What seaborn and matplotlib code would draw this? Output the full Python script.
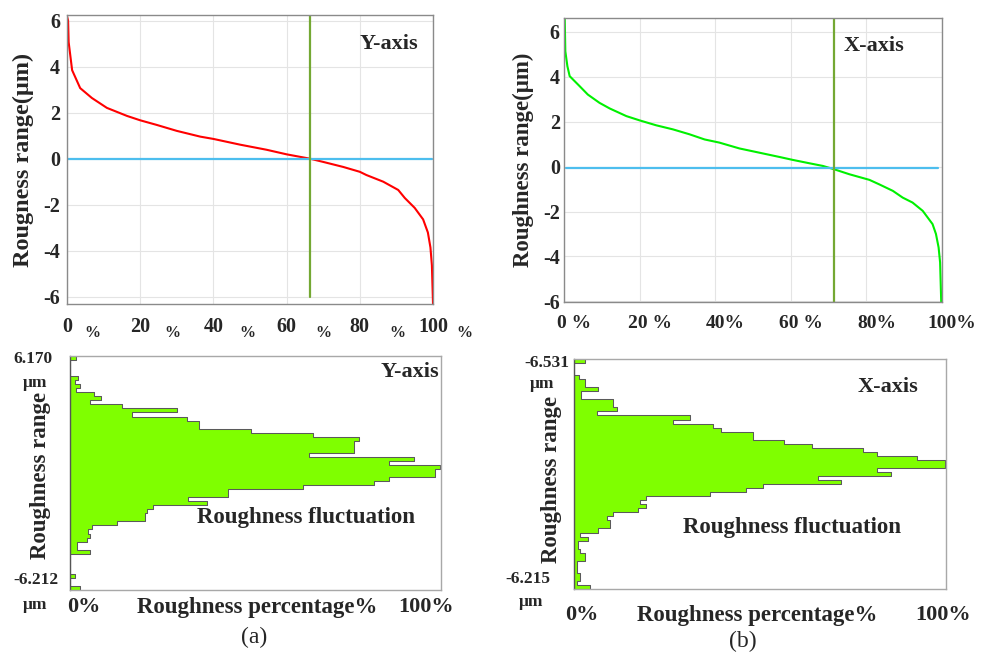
import numpy as np
import pandas as pd
import matplotlib
matplotlib.use("Agg")
import matplotlib.pyplot as plt
import seaborn as sns
from matplotlib.transforms import ScaledTranslation, blended_transform_factory

# ---------------- data ----------------
# (a) Y-axis bearing curve (percentage, roughness in um)
y_pct = [0, 0.3, 0.45, 1.4, 3.6, 6.8, 10.9, 16.4, 20, 24.5, 30, 36.4, 40, 47.3, 54.5,
         60, 66.4, 70, 75.5, 80, 81.8, 86.4, 90.5, 92.3, 95, 97.3, 98.6, 99.3, 99.7, 100]
y_val = [6.2, 6.0, 5.07, 3.85, 3.07, 2.64, 2.21, 1.86, 1.67, 1.47, 1.21, 0.96, 0.86, 0.61, 0.39,
         0.19, 0.0, -0.14, -0.36, -0.57, -0.71, -1.0, -1.36, -1.71, -2.14, -2.64, -3.21, -3.86, -4.64, -6.3]
y_cross_pct = 66.5
y_mean_level = 0.0

# (b) X-axis bearing curve
x_pct = [0, 0.2, 0.35, 0.9, 1.5, 4.1, 6.3, 9.4, 12.1, 16.5, 20, 24.4, 28.8, 33.2, 37.2, 41.1,
         46.4, 51.7, 57, 60.5, 64.9, 68.5, 71.5, 75.5, 80.8, 83.4, 87, 89.6, 92.2, 94.9, 97.5,
         98.4, 99.1, 99.5, 99.8]
x_val = [6.7, 6.55, 5.14, 4.47, 4.03, 3.59, 3.21, 2.84, 2.59, 2.25, 2.06, 1.84, 1.66, 1.44, 1.21, 1.07,
         0.81, 0.62, 0.43, 0.30, 0.15, 0.03, -0.12, -0.34, -0.59, -0.79, -1.08, -1.38, -1.6, -1.97, -2.56,
         -3.0, -3.6, -4.27, -6.05]
x_cross_pct = 71.4
x_mean_level = -0.05

# histograms: roughness percentage per bin, listed from top bin to bottom bin
hist_y_pct = [1.6, 0, 0, 0, 0, 2.2, 1.4, 2.8, 1.6, 6.4, 8.4, 5.4, 14, 28.8, 16.7, 31.5, 34.8, 34.8,
              49, 65.6, 78, 76.8, 76.8, 76.8, 64.7, 93, 86.3, 100, 98.8, 98.8, 86.3, 82.2, 62.9,
              42.7, 42.7, 32, 37, 22.5, 20.8, 20.2, 20.2, 12.7, 5.9, 5, 5.4, 4.6, 1.9, 1.9, 5.4,
              0, 0, 0, 0, 0, 1.3, 0, 0, 2.7]
hist_y_top, hist_y_bottom = 6.170, -6.212
hist_y_labels = ["6.170", "-6.212"]

hist_x_pct = [3, 0, 0, 0, 1.4, 3, 3, 6.5, 2, 2, 10.6, 10.6, 11.5, 6.1, 31.2, 26.7, 37.5, 39.7,
              48.2, 48.2, 56.7, 64.3, 77.8, 81.8, 92.6, 100, 100, 81.8, 85.4, 65.7, 72, 50.9,
              46.4, 36.6, 19.5, 17.7, 19.5, 17.3, 10.6, 8.8, 9.7, 9.7, 6.5, 1.6, 3.9, 1.2, 1.2,
              1.6, 3, 3, 0.7, 0.7, 0.7, 1.6, 1.6, 0.7, 4.3]
hist_x_top, hist_x_bottom = 6.531, -6.215
hist_x_labels = ["-6.531", "-6.215"]

pct_ticks = [0, 20, 40, 60, 80, 100]
val_ticks = [-6, -4, -2, 0, 2, 4, 6]
left_xtick_labels = ["0", "20", "40", "60", "80", "100"]
right_xtick_labels = ["0 %", "20 %", "40%", "60 %", "80%", "100%"]

# ---------------- style ----------------
sns.set_theme(style="white")
plt.rcParams["font.family"] = ["Liberation Serif", "DejaVu Serif"]
plt.rcParams["axes.unicode_minus"] = False

W, H = 987, 656
fig = plt.figure(figsize=(W / 100, H / 100), dpi=100)


def rect(l, t, r, b):
    return [l / W, 1 - b / H, (r - l) / W, (b - t) / H]


def ftext(x, y, s, **kw):
    kw.setdefault("ha", "center")
    kw.setdefault("va", "center")
    fig.text(x / W, 1 - y / H, s, **kw)


RED = "#ff0000"
GREEN = "#00f000"
VGREEN = "#74a833"
BLUE = "#4dbeee"
FILL = "#7fff00"
SPINE = "#8a8a8a"
GRID = "#e4e4e4"


def style_top(ax, ylim):
    ax.set_xlim(0, 100)
    ax.set_ylim(*ylim)
    ax.set_xticks(pct_ticks)
    ax.set_yticks(val_ticks)
    ax.grid(True, color=GRID, linewidth=0.8)
    for s in ax.spines.values():
        s.set_color(SPINE)
        s.set_linewidth(1.0)
    ax.tick_params(direction="in", length=4, color=SPINE, labelsize=14.5)
    for lab in ax.get_xticklabels() + ax.get_yticklabels():
        lab.set_fontweight("bold")
    ax.set_xlabel("")


# ---- top-left: Y-axis ----
ax1 = fig.add_axes(rect(67, 15, 433, 304))
sns.lineplot(x=y_pct, y=y_val, color=RED, linewidth=1.5, ax=ax1)
ax1.axhline(y_mean_level, xmin=0, xmax=0.997, color=BLUE, linewidth=1.6)
ax1.axvline(y_cross_pct, ymin=0.025, ymax=1, color=VGREEN, linewidth=1.6)
style_top(ax1, (-6.32, 6.25))
ax1.set_xticklabels(left_xtick_labels, fontweight="bold")
ax1.tick_params(axis="x", pad=9)
ax1.tick_params(axis="y", pad=5)
ax1.set_ylabel("Rougness range(μm)", fontsize=17.5, fontweight="bold")
ax1.yaxis.set_label_coords(-0.09, 0.5)
btr = blended_transform_factory(ax1.transData, ax1.transAxes)
for xp in [6.8, 28.7, 49.2, 70, 90.2, 108.7]:
    ax1.text(xp, -0.1, "%", transform=btr, ha="center", va="center", fontsize=11.5,
             fontweight="bold", clip_on=False)
ax1.text(0.88, 0.9, "Y-axis", transform=ax1.transAxes, ha="center", va="center",
         fontsize=16, fontweight="bold")

# ---- top-right: X-axis ----
ax2 = fig.add_axes(rect(564, 18, 942, 302))
sns.lineplot(x=x_pct, y=x_val, color=GREEN, linewidth=1.5, ax=ax2)
ax2.axhline(x_mean_level, xmin=0.005, xmax=0.99, color=BLUE, linewidth=1.6)
ax2.axvline(x_cross_pct, color=VGREEN, linewidth=1.6)
style_top(ax2, (-6.03, 6.62))
ax2.set_xticklabels(right_xtick_labels, fontweight="bold", fontsize=14)
ax2.tick_params(axis="x", pad=9)
ax2.tick_params(axis="y", pad=3)
for lab in ax2.get_xticklabels():
    lab.set_transform(lab.get_transform() + ScaledTranslation(0.1, 0, fig.dpi_scale_trans))
ax2.set_ylabel("Roughness range(μm)", fontsize=16.5, fontweight="bold")
ax2.yaxis.set_label_coords(-0.08, 0.5)
ax2.text(0.82, 0.9, "X-axis", transform=ax2.transAxes, ha="center", va="center",
         fontsize=16, fontweight="bold")


# ---- bottom histograms ----
def draw_hist(ax, pct, top, bottom):
    n = len(pct)
    h = (top - bottom) / n
    df = pd.DataFrame({
        "roughness": np.linspace(top - h / 2, bottom + h / 2, n),
        "share": np.asarray(pct, dtype=float),
    })
    edges = list(np.linspace(bottom, top, n + 1))
    sns.histplot(data=df, y="roughness", weights="share", bins=edges, element="step",
                 fill=True, color=FILL, alpha=1, edgecolor="#5a5a5a", linewidth=0.75, ax=ax)
    ax.set_ylim(bottom, top)
    ax.set_xlim(0, 100.3)
    ax.set_xticks([])
    ax.set_yticks([])
    ax.set_xlabel("")
    ax.set_ylabel("")
    for name, s in ax.spines.items():
        s.set_color("#a8a8a8")
        s.set_linewidth(1.0)
    ax.spines["left"].set_color("#555555")


ax3 = fig.add_axes(rect(70, 356, 441, 590))
draw_hist(ax3, hist_y_pct, hist_y_top, hist_y_bottom)
ax4 = fig.add_axes(rect(574, 359, 946, 589))
draw_hist(ax4, hist_x_pct, hist_x_top, hist_x_bottom)

B = dict(fontweight="bold")
# left histogram texts
ftext(33, 359, hist_y_labels[0], fontsize=12.5, **B)
ftext(35, 383, "μm", fontsize=12.5, **B)
ftext(41, 475, "Roughness range", fontsize=16.5, rotation=90, **B)
ftext(36, 580, hist_y_labels[1], fontsize=12.5, **B)
ftext(35, 605, "μm", fontsize=12.5, **B)
ftext(84, 607, "0%", fontsize=16, **B)
ftext(257, 607, "Roughness percentage%", fontsize=16.5, **B)
ftext(426, 607, "100%", fontsize=16, **B)
ftext(410, 372, "Y-axis", fontsize=16, **B)
ftext(306, 518, "Roughness fluctuation", fontsize=16.5, **B)
ftext(254, 637, "(a)", fontsize=17)

# right histogram texts
ftext(547, 363, hist_x_labels[0], fontsize=12.5, **B)
ftext(542, 384, "μm", fontsize=12.5, **B)
ftext(551, 479, "Roughness range", fontsize=16.5, rotation=90, **B)
ftext(528, 579, hist_x_labels[1], fontsize=12.5, **B)
ftext(531, 602, "μm", fontsize=12.5, **B)
ftext(582, 615, "0%", fontsize=16, **B)
ftext(757, 615, "Roughness percentage%", fontsize=16.5, **B)
ftext(943, 615, "100%", fontsize=16, **B)
ftext(888, 387, "X-axis", fontsize=16, **B)
ftext(792, 528, "Roughness fluctuation", fontsize=16.5, **B)
ftext(743, 641, "(b)", fontsize=17)

fig.savefig("out.png", dpi=100)
